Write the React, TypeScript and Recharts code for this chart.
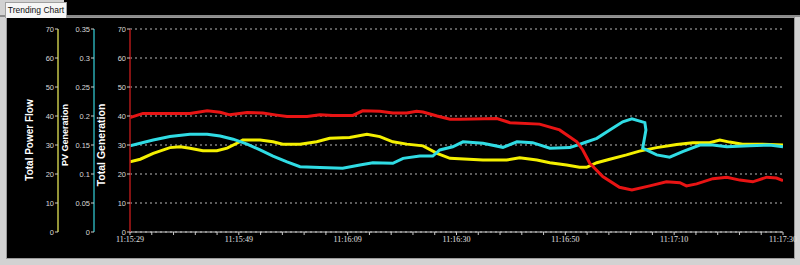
import React from 'react';
import { LineChart, Line, XAxis, YAxis, CartesianGrid } from 'recharts';

// ---- data (seconds since 11:15:29) ----
const timeLabels = ['11:15:29', '11:15:49', '11:16:09', '11:16:30', '11:16:50', '11:17:10', '11:17:30'];
const powerFlowTicks = [0, 10, 20, 30, 40, 50, 60, 70];
const pvTicks = [0, 0.05, 0.1, 0.15, 0.2, 0.25, 0.3, 0.35];
const totalGenTicks = [0, 10, 20, 30, 40, 50, 60, 70];

// Total Generation (red)
const totalGenTime = [0, 2.4, 7.4, 11.1, 14.3, 16.7, 18.5, 21.7, 24.6, 27.2, 29.1, 32.8, 35.2, 37.6, 41.3, 43.1, 46.3, 48.7, 51.3, 53.1, 54.3, 56.9, 59.3, 61.1, 68.0, 70.4, 75.9, 79.6, 82.8, 83.9, 85.2, 87.6, 90.7, 93.0, 96.3, 99.4, 101.9, 103.1, 105.0, 108.0, 110.6, 113.0, 115.4, 118.0, 119.8, 121];
const totalGenValue = [39.5, 40.9, 40.9, 40.9, 41.8, 41.3, 40.4, 41.2, 41.0, 40.3, 39.8, 39.8, 40.4, 40.2, 40.2, 41.8, 41.6, 41.0, 41.0, 41.6, 41.4, 40.0, 38.9, 38.9, 39.1, 37.7, 37.2, 35.2, 31.1, 28.3, 23.7, 19.1, 15.4, 14.5, 15.9, 17.3, 17.0, 15.9, 16.6, 18.4, 18.9, 17.9, 17.3, 18.9, 18.6, 17.7];

// Total Power Flow (yellow)
const powerFlowTime = [0, 1.9, 4.3, 7.4, 9.3, 11.1, 13.5, 16.1, 18.0, 19.8, 20.9, 24.1, 26.5, 28.3, 31.5, 34.6, 37.0, 40.7, 43.9, 46.3, 48.7, 51.3, 54.3, 56.9, 59.3, 65.4, 69.8, 72.2, 75.4, 77.8, 80.9, 83.3, 84.6, 86.5, 88.9, 92.0, 94.4, 97.6, 101.3, 104.3, 107.4, 109.3, 111.1, 113.5, 117.2, 121];
const powerFlowValue = [24.2, 25.1, 27.1, 29.1, 29.4, 28.9, 28.0, 28.0, 28.9, 30.6, 31.7, 31.7, 31.1, 30.3, 30.3, 31.1, 32.3, 32.6, 33.7, 32.9, 31.1, 30.3, 29.7, 27.1, 25.4, 24.8, 24.8, 25.6, 24.8, 23.9, 23.1, 22.3, 22.3, 23.9, 25.1, 26.6, 27.9, 29.1, 30.2, 30.8, 30.8, 31.7, 31.0, 30.3, 30.3, 30.0];

// PV Generation (cyan)
const pvTime = [0, 4.3, 7.4, 11.1, 14.3, 16.7, 19.1, 21.7, 24.1, 26.5, 29.1, 31.5, 35.2, 39.4, 42.6, 45.0, 48.7, 50.6, 53.7, 56.1, 57.4, 59.8, 61.7, 65.4, 69.1, 71.7, 74.6, 77.8, 81.5, 83.9, 86.5, 88.9, 91.3, 93.0, 95.4, 95.6, 95.0, 97.6, 100.0, 102.4, 105.6, 108.0, 110.6, 114.8, 118.5, 121];
const pvValue = [0.1485, 0.1585, 0.1645, 0.1685, 0.1685, 0.1655, 0.16, 0.1515, 0.1415, 0.131, 0.121, 0.1125, 0.111, 0.11, 0.1155, 0.1195, 0.1185, 0.127, 0.131, 0.131, 0.1415, 0.147, 0.1555, 0.153, 0.146, 0.1555, 0.154, 0.1445, 0.1455, 0.153, 0.1615, 0.176, 0.19, 0.195, 0.1885, 0.176, 0.1445, 0.133, 0.129, 0.1385, 0.15, 0.15, 0.147, 0.1485, 0.15, 0.147];

const SPAN = 121;
const xTicks = Array.from({ length: 31 }, (_, i) => (i * SPAN) / 30);

const totalGenData = totalGenTime.map((t, i) => ({ t, v: totalGenValue[i] }));
const powerFlowData = powerFlowTime.map((t, i) => ({ t, v: powerFlowValue[i] }));
const pvData = pvTime.map((t, i) => ({ t, v: pvValue[i] }));

const SANS = '"Liberation Sans", Arial, sans-serif';

const makeLabel = (text: string, x: number, y: number, size: number) => () => (
  <text
    x={x}
    y={y}
    transform={`rotate(-90 ${x} ${y})`}
    textAnchor="middle"
    dominantBaseline="central"
    fill="#ffffff"
    fontWeight="bold"
    fontSize={size}
    fontFamily={SANS}
  >
    {text}
  </text>
);

const yTick = { fill: '#d8d8d8', fontSize: 7.5, fontFamily: SANS };

// axis ids (inner → outer)
const TG = 'axis1';
const PV = 'axis2';
const PF = 'axis3';

export default function App() {
  return (
    <div
      style={{
        position: 'fixed',
        left: 0,
        top: 0,
        width: 800,
        height: 265,
        background: '#d2d2d2',
        overflow: 'hidden',
        fontFamily: SANS,
      }}
    >
      <div style={{ position: 'absolute', left: 64, top: 0, width: 736, height: 15, background: '#000' }} />
      <div style={{ position: 'absolute', left: 0, top: 15, width: 800, height: 2, background: '#8a8a8a' }} />
      <div
        style={{
          position: 'absolute',
          left: 6,
          top: 17,
          width: 787,
          height: 240,
          background: '#000',
          border: '1px solid #9a9a9a',
        }}
      />
      <div
        style={{
          position: 'absolute',
          left: 5,
          top: 2,
          width: 60,
          height: 15,
          background: '#f6f6f6',
          borderTop: '1px solid #a0a0a0',
          borderLeft: '1px solid #a0a0a0',
          borderRight: '1px solid #a0a0a0',
          fontSize: 8.5,
          lineHeight: '15px',
          color: '#111',
          textAlign: 'center',
          fontFamily: SANS,
        }}
      >
        Trending Chart
      </div>
      <div style={{ position: 'absolute', left: 0, top: 0 }}>
        <LineChart width={800} height={265} margin={{ top: 29, right: 17, bottom: 13, left: 20 }}>
          <CartesianGrid
            yAxisId={TG}
            vertical={false}
            stroke="#b8b8b8"
            strokeDasharray="2 3"
          />
          <XAxis
            dataKey="t"
            type="number"
            domain={[0, SPAN]}
            ticks={xTicks}
            interval={0}
            height={20}
            allowDataOverflow
            stroke="#c8c8c8"
            tickFormatter={(_v: number, i: number) => (i % 5 === 0 ? timeLabels[i / 5] : '')}
            tick={{ fill: '#e0e0e0', fontSize: 8, fontFamily: '"Liberation Serif", serif' }}
            tickSize={3}
            tickMargin={1}
            axisLine={{ stroke: '#c8c8c8' }}
            tickLine={{ stroke: '#c8c8c8' }}
          />
          <YAxis
            yAxisId={TG}
            orientation="left"
            width={36}
            domain={[0, 70]}
            ticks={totalGenTicks}
            interval={0}
            tick={yTick}
            tickSize={3}
            tickMargin={1}
            axisLine={{ stroke: '#b01818', strokeWidth: 1.5 }}
            tickLine={{ stroke: '#cccccc' }}
            label={{ content: makeLabel('Total Generation', 101, 145, 10.5) }}
          />
          <YAxis
            yAxisId={PV}
            orientation="left"
            width={36}
            domain={[0, 0.35]}
            ticks={pvTicks}
            interval={0}
            tick={yTick}
            tickSize={3}
            tickMargin={1}
            axisLine={{ stroke: '#2aa8b0', strokeWidth: 1.5 }}
            tickLine={{ stroke: '#cccccc' }}
            label={{ content: makeLabel('PV Generation', 65, 135, 9) }}
          />
          <YAxis
            yAxisId={PF}
            orientation="left"
            width={38}
            domain={[0, 70]}
            ticks={powerFlowTicks}
            interval={0}
            tick={yTick}
            tickSize={3}
            tickMargin={1}
            axisLine={{ stroke: '#c4c44a', strokeWidth: 1.5 }}
            tickLine={{ stroke: '#cccccc' }}
            label={{ content: makeLabel('Total Power Flow', 29, 140, 10) }}
          />
          <Line
            data={powerFlowData}
            dataKey="v"
            yAxisId={PF}
            type="linear"
            stroke="#f4f000"
            strokeWidth={3}
            dot={false}
            isAnimationActive={false}
          />
          <Line
            data={pvData}
            dataKey="v"
            yAxisId={PV}
            type="linear"
            stroke="#30dce4"
            strokeWidth={3}
            dot={false}
            isAnimationActive={false}
          />
          <Line
            data={totalGenData}
            dataKey="v"
            yAxisId={TG}
            type="linear"
            stroke="#e81414"
            strokeWidth={3}
            dot={false}
            isAnimationActive={false}
          />
        </LineChart>
      </div>
    </div>
  );
}
